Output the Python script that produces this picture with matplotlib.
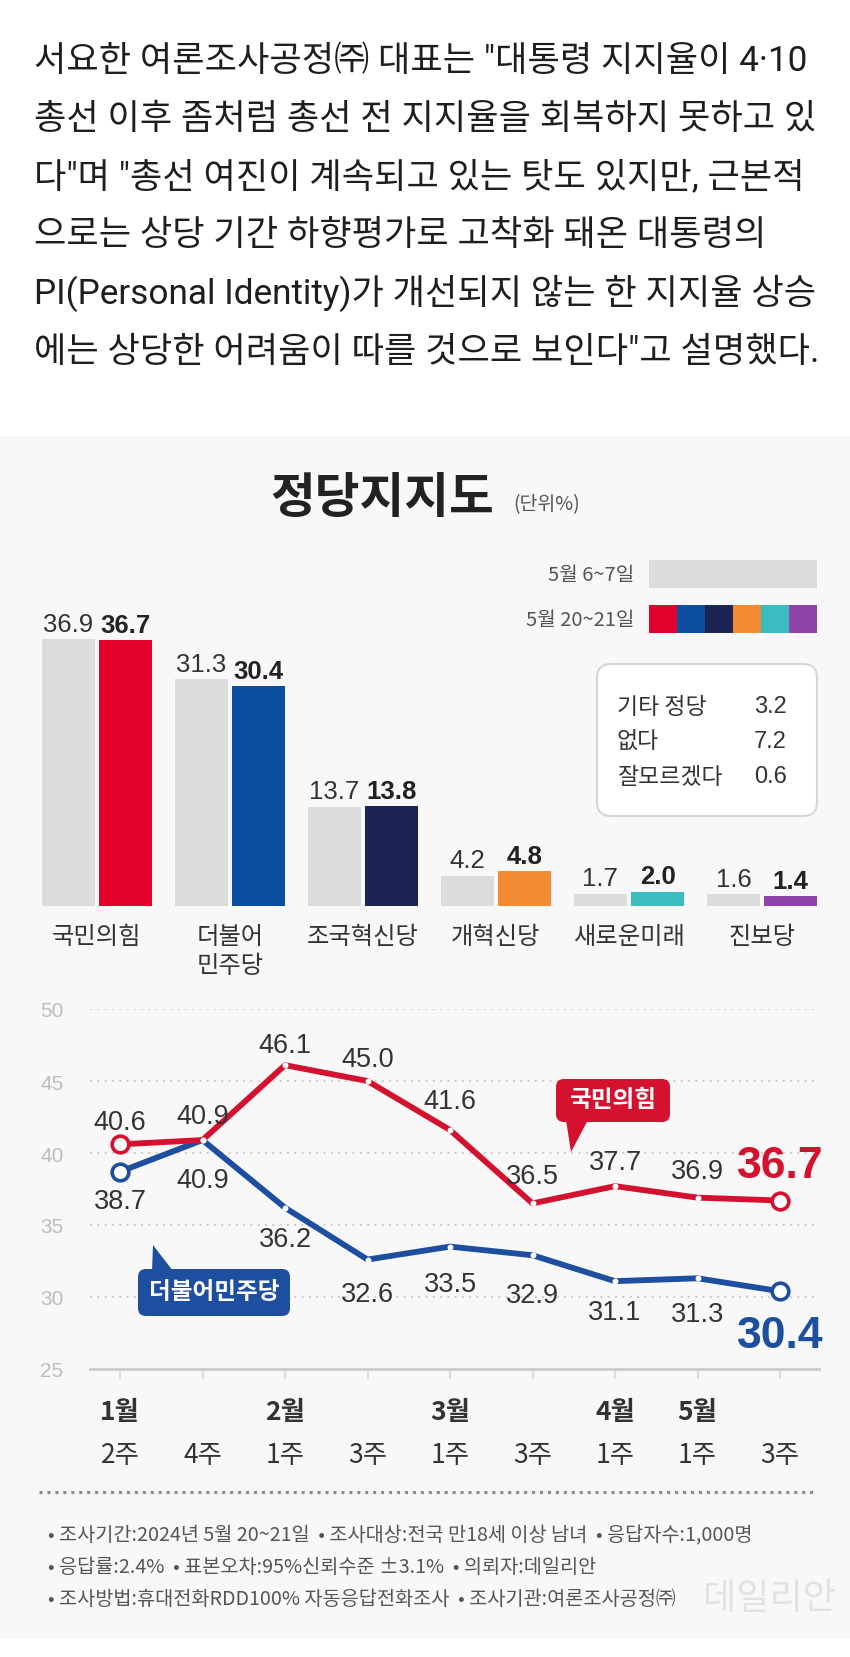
import matplotlib
matplotlib.use('Agg')
import matplotlib.pyplot as plt
from matplotlib.patches import FancyBboxPatch, Rectangle, Polygon
import numpy as np

plt.rcParams['font.family'] = ['Noto Sans CJK KR', 'DejaVu Sans']
NARROW = ['Liberation Sans', 'Noto Sans CJK KR']
BODY = ['Roboto', 'Noto Sans CJK KR']

W, H = 850, 1658

# article text above the chart
paragraph = [
    '서요한 여론조사공정㈜ 대표는 "대통령 지지율이 4·10',
    '총선 이후 좀처럼 총선 전 지지율을 회복하지 못하고 있',
    '다"며 "총선 여진이 계속되고 있는 탓도 있지만, 근본적',
    '으로는 상당 기간 하향평가로 고착화 돼온 대통령의',
    'PI(Personal Identity)가 개선되지 않는 한 지지율 상승',
    '에는 상당한 어려움이 따를 것으로 보인다"고 설명했다.',
]

# party support bars
parties = ['국민의힘', '더불어\n민주당', '조국혁신당', '개혁신당', '새로운미래', '진보당']
may_6_7 = [36.9, 31.3, 13.7, 4.2, 1.7, 1.6]
may_20_21 = [36.7, 30.4, 13.8, 4.8, 2.0, 1.4]
legend_labels = ['5월 6~7일', '5월 20~21일']
other_labels = ['기타 정당', '없다', '잘모르겠다']
other_values = [3.2, 7.2, 0.6]

# weekly trend
months = ['1월', '', '2월', '', '3월', '', '4월', '5월', '']
weeks = ['2주', '4주', '1주', '3주', '1주', '3주', '1주', '1주', '3주']
ppp = [40.6, 40.9, 46.1, 45.0, 41.6, 36.5, 37.7, 36.9, 36.7]
dem = [38.7, 40.9, 36.2, 32.6, 33.5, 32.9, 31.1, 31.3, 30.4]

notes = [
    '• 조사기간:2024년 5월 20~21일  • 조사대상:전국 만18세 이상 남녀  • 응답자수:1,000명',
    '• 응답률:2.4%  • 표본오차:95%신뢰수준 ±3.1%  • 의뢰자:데일리안',
    '• 조사방법:휴대전화RDD100% 자동응답전화조사  • 조사기관:여론조사공정㈜',
]

# styling
bar_colors = ['#e3002b', '#0b4fa3', '#1c2454', '#f28b32', '#3bbcbf', '#8e44a8']
gray_bar = '#dcdcdc'
red = '#d4112e'
blue = '#1d4e9f'
txt = '#333333'
# label offsets in px (center of label from point), + up / - down
ppp_dy = [25, 27, 23, 25, 32, 30, 27, 29, 39]
dem_dy = [-27, -37, -29, -32, -35, -37, -28, -33, -40]

fig = plt.figure(figsize=(W / 100, H / 100), dpi=100)


def px_axes(left, top, right, bottom, z=1):
    return fig.add_axes([left / W, 1 - bottom / H, (right - left) / W, (bottom - top) / H], zorder=z)


def canvas(z):
    a = fig.add_axes([0, 0, 1, 1], zorder=z)
    a.set_xlim(0, W)
    a.set_ylim(H, 0)
    a.axis('off')
    a.patch.set_alpha(0)
    return a


bg = canvas(0)
bg.add_patch(Rectangle((0, 437), W, 1203, color='#f8f8f8', lw=0))

top = canvas(10)

# paragraph
for k, line in enumerate(paragraph):
    top.text(34, 61 + 58.2 * k, line, fontsize=25.3, color='#1e1e1e', va='center', ha='left', family=BODY)

# title + legend
top.text(382, 498, '정당지지도', fontsize=35, fontweight='bold', color='#222222', ha='center', va='center')
top.text(547, 505, '(단위%)', fontsize=14, color='#555555', ha='center', va='center')
top.text(634, 575, legend_labels[0], fontsize=14.5, color='#555555', ha='right', va='center', style='italic')
top.text(634, 620, legend_labels[1], fontsize=14.5, color='#555555', ha='right', va='center', style='italic')
top.add_patch(Rectangle((649, 561), 168, 28, color=gray_bar, lw=0))
for k, c in enumerate(bar_colors):
    top.add_patch(Rectangle((649 + 28 * k, 606), 28, 28, color=c, lw=0))

# others box
top.add_patch(FancyBboxPatch((597, 665), 220, 152, boxstyle='round,pad=0,rounding_size=14',
                             fc='white', ec='#d6d6d6', lw=1.5))
for k, (lab, val) in enumerate(zip(other_labels, other_values)):
    y = 707 + 35 * k
    top.text(617, y, lab, fontsize=16.5, color=txt, va='center', ha='left')
    top.text(787, y, f'{val:.1f}', fontsize=17, color=txt, va='center', ha='right', family=NARROW)

# ---- bar chart ----
ax = px_axes(30.5, 907 - 45 * 7.24, 30.5 + 6 * 133, 907)
ax.patch.set_alpha(0)
x = np.arange(len(parties))
off = 0.215
ax.bar(x - off, may_6_7, width=0.4, color=gray_bar, lw=0)
ax.bar(x + off, may_20_21, width=0.4, color=bar_colors, lw=0)
for i in range(len(parties)):
    ax.annotate(f'{may_6_7[i]:.1f}', (x[i] - off, may_6_7[i]), xytext=(0, 6), textcoords='offset points',
                ha='center', va='baseline', fontsize=18.5, color=txt, family=NARROW)
    ax.annotate(f'{may_20_21[i]:.1f}', (x[i] + off, may_20_21[i]), xytext=(0, 6), textcoords='offset points',
                ha='center', va='baseline', fontsize=18.5, color='#222222', fontweight='bold', family=NARROW)
ax.set_xlim(-0.5, 5.5)
ax.set_ylim(0, 45)
ax.set_xticks(x, parties, fontsize=17.5, color=txt, linespacing=1.15)
ax.tick_params(axis='x', length=0, pad=12)
ax.set_yticks([])
for s in ax.spines.values():
    s.set_visible(False)

# ---- line chart ----
lx = px_axes(90, 1010, 819, 1370, z=2)
lx.patch.set_alpha(0)
idx = np.arange(len(weeks))
lx.set_xlim(-30 / 82.5, 8 + 39 / 82.5)
lx.set_ylim(25, 50)
for yv in [30, 35, 40, 45, 50]:
    lx.axhline(yv, color='#cfcfcf', lw=1.5, ls=(0, (1, 2.5)), zorder=0)
for s in ['top', 'right', 'left']:
    lx.spines[s].set_visible(False)
lx.spines['bottom'].set_color('#cccccc')
lx.spines['bottom'].set_linewidth(2)
lx.set_yticks([25, 30, 35, 40, 45, 50])
lx.tick_params(axis='y', length=0, pad=19, labelsize=15, labelcolor='#bdbdbd')
for t in lx.get_yticklabels():
    t.set_family(NARROW)
lx.set_xticks(idx)
lx.tick_params(axis='x', length=7.5, width=1.5, color='#dddddd', labelbottom=False)

lx.plot(idx, dem, color=blue, lw=4.2, zorder=3)
lx.plot(idx, ppp, color=red, lw=4.2, zorder=4)
lx.plot(idx[1:-1], dem[1:-1], 'o', ms=3.2, color='white', zorder=5)
lx.plot(idx[1:-1], ppp[1:-1], 'o', ms=3.2, color='white', zorder=5)
lx.plot(idx[[0, -1]], [dem[0], dem[-1]], 'o', ms=12, mfc='white', mec=blue, mew=2.6, zorder=6)
lx.plot(idx[[0, -1]], [ppp[0], ppp[-1]], 'o', ms=12, mfc='white', mec=red, mew=2.6, zorder=6)

for i in idx:
    last = i == idx[-1]
    fs = 32 if last else 19.5
    cap = fs / 0.72 * 0.716
    for vals, dys, col in [(ppp, ppp_dy, red), (dem, dem_dy, blue)]:
        base = (dys[i] - cap / 2) * 0.72
        lx.annotate(f'{vals[i]:.1f}', (i, vals[i]), xytext=(0, base), textcoords='offset points',
                    ha='center', va='baseline', fontsize=fs, family=NARROW,
                    color=col if last else txt, fontweight='bold' if last else 'normal',
                    annotation_clip=False, zorder=7)
    if months[i]:
        lx.annotate(months[i], (i, 0), xycoords=('data', 'axes fraction'), xytext=(0, -43 * 0.72),
                    textcoords='offset points', ha='center', va='center', fontsize=19,
                    fontweight='bold', color=txt, annotation_clip=False)
    lx.annotate(weeks[i], (i, 0), xycoords=('data', 'axes fraction'), xytext=(0, -86 * 0.72),
                textcoords='offset points', ha='center', va='center', fontsize=19,
                color=txt, annotation_clip=False)

# callouts
top.add_patch(FancyBboxPatch((556, 1080), 114, 43, boxstyle='round,pad=0,rounding_size=8', fc=red, lw=0))
top.add_patch(Polygon([(566, 1121), (588, 1121), (571, 1153)], closed=True, fc=red, lw=0))
top.text(613, 1100, '국민의힘', fontsize=17, fontweight='bold', color='white', ha='center', va='center')
top.add_patch(FancyBboxPatch((138, 1270), 152, 47, boxstyle='round,pad=0,rounding_size=8', fc=blue, lw=0))
top.add_patch(Polygon([(152, 1272), (173, 1272), (153, 1246)], closed=True, fc=blue, lw=0))
top.text(214, 1292, '더불어민주당', fontsize=17, fontweight='bold', color='white', ha='center', va='center')

# separator + notes
top.plot([39, 817], [1493, 1493], color='#8a8a8a', lw=2.2, ls=(0, (1, 1.6)))
for k, n in enumerate(notes):
    top.text(48, 1536 + 32 * k, n, fontsize=14.2, color='#555555', ha='left', va='center')
top.text(770, 1599, '데일리안', fontsize=26, color='#e2e2e2', ha='center', va='center')

fig.savefig('out.png', dpi=100)
